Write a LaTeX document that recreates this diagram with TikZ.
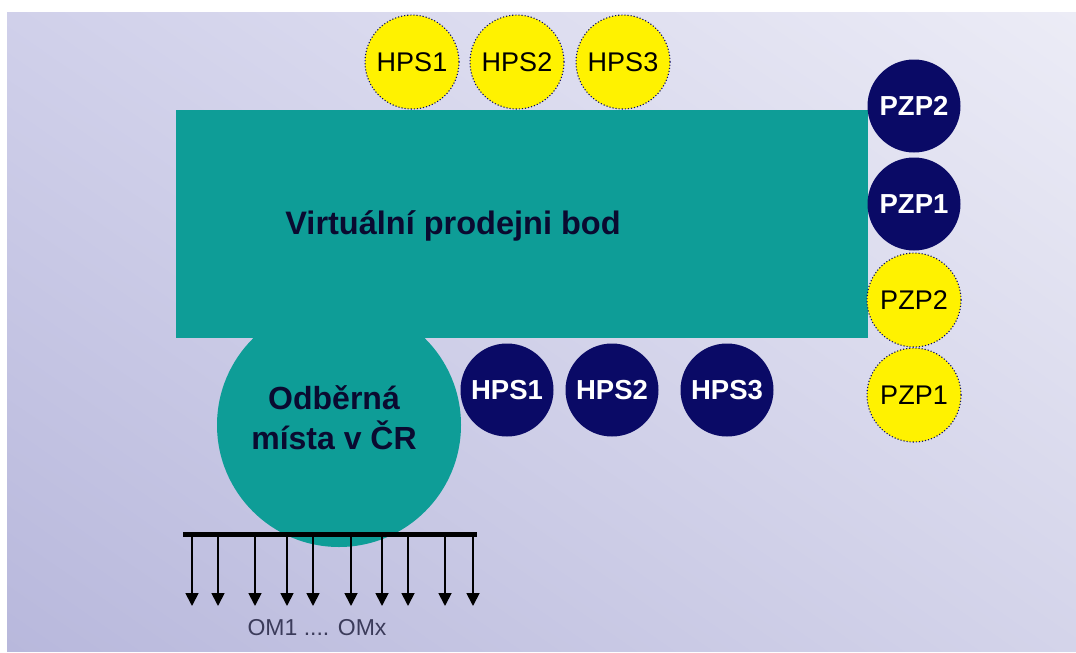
\documentclass[tikz,border=0pt]{standalone}
\usepackage{fontspec}
\setmainfont{Liberation Sans}
\usetikzlibrary{arrows.meta,shadings}
\definecolor{vpbteal}{HTML}{0E9D97}
\definecolor{navy}{HTML}{0A0A66}
\definecolor{ink}{HTML}{0A0A30}
\definecolor{bgUL}{HTML}{D0D0EA}
\definecolor{bgUR}{HTML}{ECECF6}
\definecolor{bgLL}{HTML}{B8B8DC}
\definecolor{bgLR}{HTML}{D4D4EA}
\tikzset{
  yellowdot/.style={circle, minimum size=94pt, inner sep=0pt, fill=yellow,
    draw=navy, line width=1.1pt, dotted, text=black,
    font=\fontsize{27}{30}\selectfont},
  navydot/.style={circle, minimum size=93pt, inner sep=0pt, fill=navy,
    text=white, font=\fontsize{27.5}{30}\selectfont\bfseries},
  tealshape/.style={fill=vpbteal, draw=none},
  outarrow/.style={line width=1.8pt, -{Triangle[width=13pt,length=13pt]}},
}
\begin{document}
\begin{tikzpicture}[x=1pt, y=-1pt]
\useasboundingbox (0,0) rectangle (1076,653);
\fill[white] (0,0) rectangle (1076,653);
% backdrop
\shade[upper left=bgUL, upper right=bgUR, lower left=bgLL, lower right=bgLR]
  (7,12) rectangle (1076,651);

% consumption points and the virtual trading point
\node[tealshape, circle, minimum size=244pt, inner sep=0pt] (om) at (339,425) {};
\node[tealshape, minimum width=692pt, minimum height=228pt, inner sep=0pt,
      anchor=north west] (vpb) at (176,110) {};
\node[text=ink, font=\fontsize{32.5}{36}\selectfont\bfseries] (vpbt) at (453,226)
  {Virtuální prodejni bod};
\node[text=ink, font=\fontsize{32}{40}\selectfont\bfseries, align=center]
  (omt) at (334,418) {Odběrná\\místa v ČR};

% yellow points above
\node[yellowdot] (ya1) at (412,62) {HPS1};
\node[yellowdot] (ya2) at (517,62) {HPS2};
\node[yellowdot] (ya3) at (623,62) {HPS3};

% navy points below
\node[navydot] (nb1) at (507,390) {HPS1};
\node[navydot] (nb2) at (612,390) {HPS2};
\node[navydot] (nb3) at (727,390) {HPS3};

% points on the right
\node[navydot] (pr1) at (914,106) {PZP2};
\node[navydot] (pr2) at (914,204) {PZP1};
\node[yellowdot] (pr3) at (914,300) {PZP2};
\node[yellowdot] (pr4) at (914,395) {PZP1};

% distribution bar with outgoing arrows
\coordinate (barL) at (183,534);
\coordinate (barR) at (477,534);
\draw[line width=5pt] (barL) -- (barR);
\foreach \i/\x in {1/192,2/218,3/255,4/287,5/313,6/351,7/382,8/408,9/445,10/473}{
  \coordinate (top\i) at (\x,534);
  \coordinate (end\i) at (\x,606);
  \draw[outarrow] (top\i) -- (end\i);
}
\node[text=ink!80, font=\fontsize{23}{26}\selectfont] (omx) at (317,628) {OM1 .... OMx};
\end{tikzpicture}
\end{document}
